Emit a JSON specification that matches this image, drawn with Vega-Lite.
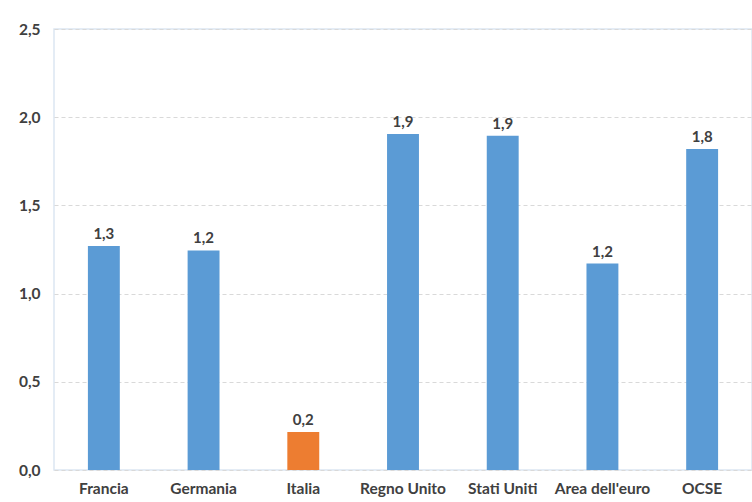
{
  "$schema": "https://vega.github.io/schema/vega-lite/v6.json",
  "width": 698,
  "height": 441,
  "autosize": {"type": "none"},
  "padding": {"left": 54, "top": 29, "right": 0, "bottom": 32},
  "background": "white",
  "config": {
    "locale": {"number": {"decimal": ",", "thousands": ".", "grouping": [3], "currency": ["€", ""]}},
    "view": {"stroke": "#dce6f2", "strokeWidth": 1.5},
    "font": "Lato"
  },
  "data": {
    "values": [
      {"paese": "Francia", "valore": 1.27, "gruppo": "altro"},
      {"paese": "Germania", "valore": 1.245, "gruppo": "altro"},
      {"paese": "Italia", "valore": 0.215, "gruppo": "Italia"},
      {"paese": "Regno Unito", "valore": 1.905, "gruppo": "altro"},
      {"paese": "Stati Uniti", "valore": 1.895, "gruppo": "altro"},
      {"paese": "Area dell'euro", "valore": 1.17, "gruppo": "altro"},
      {"paese": "OCSE", "valore": 1.82, "gruppo": "altro"}
    ]
  },
  "encoding": {
    "x": {
      "field": "paese",
      "type": "nominal",
      "sort": null,
      "scale": {"paddingInner": 0.68, "paddingOuter": 0.34},
      "axis": {
        "title": null,
        "labelAngle": 0,
        "labelFont": "Lato",
        "labelFontWeight": "bold",
        "labelFontSize": 15.5,
        "labelColor": "#404040",
        "labelPadding": 11,
        "ticks": false,
        "domain": false
      }
    },
    "y": {
      "field": "valore",
      "type": "quantitative",
      "scale": {"domain": [0, 2.5], "nice": false},
      "axis": {
        "title": null,
        "values": [0, 0.5, 1, 1.5, 2, 2.5],
        "format": ".1f",
        "labelFont": "Lato",
        "labelFontWeight": "bold",
        "labelFontSize": 15.5,
        "labelColor": "#404040",
        "labelPadding": 14,
        "ticks": false,
        "domain": false,
        "grid": true,
        "gridColor": "#d9d9d9",
        "gridDash": [4, 3],
        "gridWidth": 1
      }
    }
  },
  "layer": [
    {
      "mark": {"type": "bar"},
      "encoding": {
        "color": {
          "field": "gruppo",
          "type": "nominal",
          "scale": {"domain": ["altro", "Italia"], "range": ["#5b9bd5", "#ed7d31"]},
          "legend": null
        }
      }
    },
    {
      "mark": {"type": "text", "dy": -12, "font": "Lato", "fontWeight": "bold", "fontSize": 15, "color": "#404040"},
      "encoding": {
        "text": {"field": "valore", "type": "quantitative", "format": ".1f"}
      }
    }
  ]
}
